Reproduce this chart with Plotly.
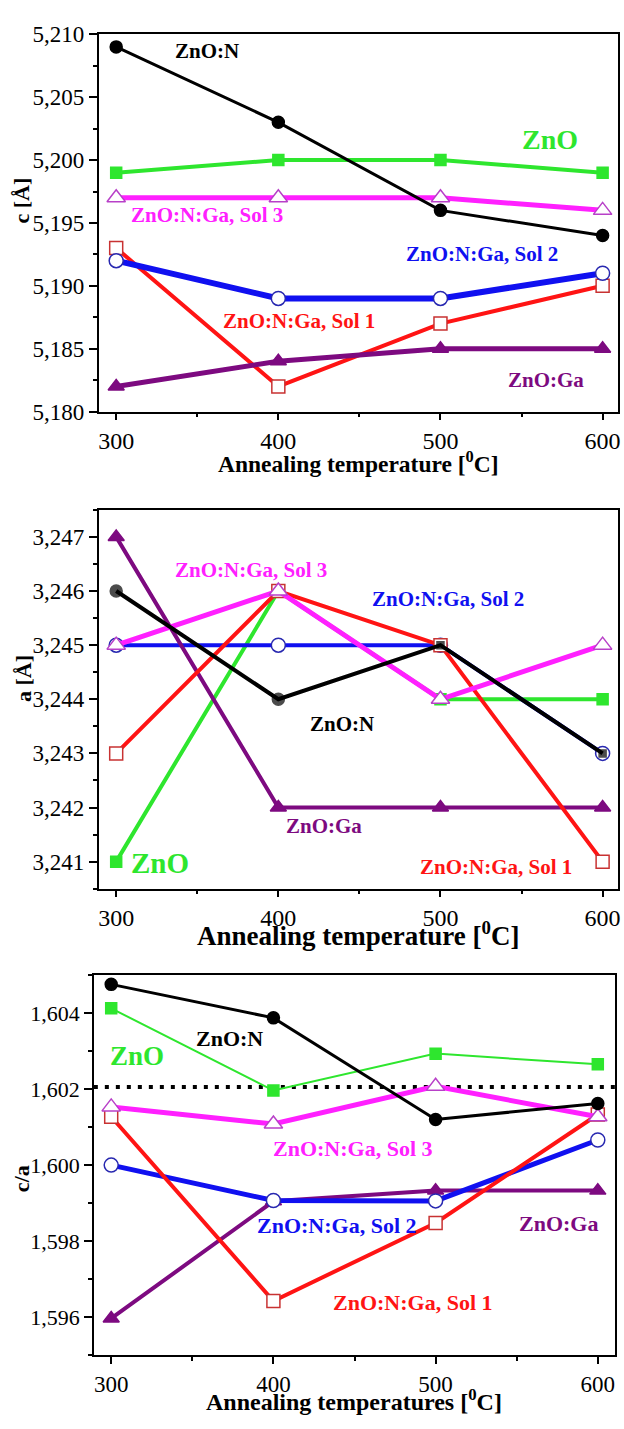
import plotly.graph_objects as go

# ---------------- data ----------------
temps = [300, 400, 500, 600]

c_ZnO = [5.199, 5.200, 5.200, 5.199]
c_ZnO_N = [5.209, 5.203, 5.196, 5.194]
c_ZnO_Ga = [5.182, 5.184, 5.185, 5.185]
c_Sol1 = [5.193, 5.182, 5.187, 5.190]
c_Sol2 = [5.192, 5.189, 5.189, 5.191]
c_Sol3 = [5.197, 5.197, 5.197, 5.196]

a_ZnO = [3.241, 3.246, 3.244, 3.244]
a_ZnO_N = [3.246, 3.244, 3.245, 3.243]
a_ZnO_Ga = [3.247, 3.242, 3.242, 3.242]
a_Sol1 = [3.243, 3.246, 3.245, 3.241]
a_Sol2 = [3.245, 3.245, 3.245, 3.243]
a_Sol3 = [3.245, 3.246, 3.244, 3.245]

ca_ZnO = [1.60412, 1.60196, 1.60293, 1.60265]
ca_ZnO_N = [1.60475, 1.60387, 1.60120, 1.60162]
ca_ZnO_Ga = [1.59597, 1.59905, 1.59933, 1.59933]
ca_Sol1 = [1.60127, 1.59643, 1.59848, 1.60133]
ca_Sol2 = [1.60000, 1.59907, 1.59906, 1.60066]
ca_Sol3 = [1.60153, 1.60108, 1.60207, 1.60127]
ca_reference = 1.60205

# ---------------- styles ----------------
FONT = "Liberation Serif, Times New Roman, Times, serif"
W, H = 624, 1429

STYLE = {
    "ZnO":    dict(color="#2ee62e", symbol="square", size=11, fill="#2ee62e", outline="#2ee62e"),
    "ZnO:N":  dict(color="#000000", symbol="circle", size=12, fill="#000000", outline="#000000"),
    "ZnO:Ga": dict(color="#7d0a80", symbol="triangle-up", size=14, fill="#7d0a80", outline="#7d0a80"),
    "Sol1":   dict(color="#ff1414", symbol="square", size=13, fill="white", outline="#c83232"),
    "Sol2":   dict(color="#1010f0", symbol="circle", size=14, fill="white", outline="#2828b0"),
    "Sol3":   dict(color="#ff20ff", symbol="triangle-up", size=16, fill="white", outline="#b840c8"),
}

fig = go.Figure()


def add_series(key, yvals, axis_idx, lw, symbols=None, sizes=None):
    st = STYLE[key]
    sfx = "" if axis_idx == 1 else str(axis_idx)
    fig.add_trace(go.Scatter(
        x=temps, y=yvals, mode="lines+markers",
        xaxis="x" + sfx, yaxis="y" + sfx,
        line=dict(color=st["color"], width=lw),
        marker=dict(symbol=symbols or st["symbol"], size=sizes or st["size"], color=st["fill"],
                    line=dict(color=st["outline"], width=1.5)),
        showlegend=False, hoverinfo="skip"))


# panel 1 (c)
add_series("ZnO", c_ZnO, 1, 4)
add_series("Sol3", c_Sol3, 1, 5)
add_series("Sol1", c_Sol1, 1, 4)
add_series("Sol2", c_Sol2, 1, 6)
add_series("ZnO:Ga", c_ZnO_Ga, 1, 5)
add_series("ZnO:N", c_ZnO_N, 1, 3)

# panel 2 (a)
add_series("ZnO", a_ZnO, 2, 4)
add_series("Sol2", a_Sol2, 2, 4)
add_series("ZnO:Ga", a_ZnO_Ga, 2, 4)
add_series("Sol1", a_Sol1, 2, 4)
add_series("Sol3", a_Sol3, 2, 5)
add_series("ZnO:N", a_ZnO_N, 2, 4,
           symbols=["circle", "circle", "square", "square"], sizes=[12, 12, 7, 7])

# panel 3 (c/a)
add_series("ZnO", ca_ZnO, 3, 2)
add_series("ZnO:Ga", ca_ZnO_Ga, 3, 4)
add_series("Sol2", ca_Sol2, 3, 5)
add_series("Sol1", ca_Sol1, 3, 4)
add_series("Sol3", ca_Sol3, 3, 5)
add_series("ZnO:N", ca_ZnO_N, 3, 3)

fig.add_shape(type="line", xref="x3 domain", yref="y3", x0=0, x1=1,
              y0=ca_reference, y1=ca_reference,
              line=dict(color="black", width=4, dash="4px,7px"), layer="below")


def xpx(p):
    return p / W


def ypx(p):
    return 1 - p / H


def xaxis_cfg(dom, rng, anchor, size):
    return dict(domain=dom, range=rng, anchor=anchor, tickmode="linear", tick0=300, dtick=100,
                ticks="outside", ticklen=7, tickwidth=1.5, tickcolor="black",
                minor=dict(ticks="outside", ticklen=4, tickwidth=1.5, dtick=50, tick0=300, tickcolor="black"),
                showline=True, linecolor="black", linewidth=1.5, mirror=True,
                showgrid=False, zeroline=False,
                tickfont=dict(family=FONT, size=size, color="black"))


def yaxis_cfg(dom, rng, anchor, t0, dtick, fmt, size):
    return dict(domain=dom, range=rng, anchor=anchor, tickmode="linear", tick0=t0, dtick=dtick,
                tickformat=fmt, ticks="outside", ticklen=8, tickwidth=1.5, tickcolor="black",
                minor=dict(ticks="outside", ticklen=4, tickwidth=1.5, dtick=dtick / 2, tickcolor="black"),
                showline=True, linecolor="black", linewidth=1.5, mirror=True,
                showgrid=False, zeroline=False,
                tickfont=dict(family=FONT, size=size, color="black"))


xd12 = [xpx(99), xpx(621)]
xd3 = [xpx(94.3), xpx(618.3)]

fig.update_layout(
    width=W, height=H, margin=dict(l=0, r=0, t=0, b=0),
    paper_bgcolor="white", plot_bgcolor="white", separators=",.",
    font=dict(family=FONT, color="black"),
    xaxis=xaxis_cfg(xd12, [289.1, 609.5], "y", 24),
    yaxis=yaxis_cfg([ypx(406.7), ypx(22.7)], [5.180, 5.210], "x", 5.180, 0.005, ".3f", 23),
    xaxis2=xaxis_cfg(xd12, [289.1, 609.5], "y2", 24),
    yaxis2=yaxis_cfg([ypx(892.3), ypx(506.7)], [3.2405, 3.2475], "x2", 3.241, 0.001, ".3f", 23),
    xaxis3=xaxis_cfg(xd3, [289.3, 610.8], "y3", 23),
    yaxis3=yaxis_cfg([ypx(1367.3), ypx(980)], [1.595, 1.605], "x3", 1.596, 0.002, ".3f", 22),
)

annots = [
    # panel 1
    ("ZnO:N", 208, 40, "#000000", 21),
    ("ZnO", 553, 130, "#2ee62e", 28),
    ("ZnO:N:Ga, Sol 3", 208, 207, "#ff20ff", 21),
    ("ZnO:N:Ga, Sol 2", 484, 246, "#1010f0", 21),
    ("ZnO:N:Ga, Sol 1", 300, 315, "#ff1414", 21),
    ("ZnO:Ga", 549, 375, "#7d0a80", 21),
    # panel 2
    ("ZnO:N:Ga, Sol 3", 252, 568, "#ff20ff", 21),
    ("ZnO:N:Ga, Sol 2", 450, 597, "#1010f0", 21),
    ("ZnO:N", 344, 725, "#000000", 21),
    ("ZnO:Ga", 326, 828, "#7d0a80", 21),
    ("ZnO", 161, 866, "#2ee62e", 29),
    ("ZnO:N:Ga, Sol 1", 498, 870, "#ff1414", 21),
    # panel 3
    ("ZnO:N", 231, 1045, "#000000", 22),
    ("ZnO", 138, 1063, "#2ee62e", 27),
    ("ZnO:N:Ga, Sol 3", 355, 1157, "#ff20ff", 22),
    ("ZnO:N:Ga, Sol 2", 339, 1235, "#1010f0", 22),
    ("ZnO:Ga", 561, 1233, "#7d0a80", 22),
    ("ZnO:N:Ga, Sol 1", 415, 1313, "#ff1414", 22),
]
for txt, x, y, col, sz in annots:
    fig.add_annotation(text="<b>%s</b>" % txt, x=xpx(x), y=ypx(y), xref="paper", yref="paper",
                       xanchor="center", yanchor="middle", showarrow=False,
                       font=dict(family=FONT, size=sz, color=col))

# axis titles (x titles anchored by their bottom edge)
xtitles = [
    ("Annealing temperature [<sup>0</sup>C]", 360, 474, 23.5),
    ("Annealing temperature [<sup>0</sup>C]", 360, 957, 27),
    ("Annealing temperatures [<sup>0</sup>C]", 356, 1429, 24),
]
for txt, x, y, sz in xtitles:
    fig.add_annotation(text="<b>%s</b>" % txt, x=xpx(x), y=ypx(y), xref="paper", yref="paper",
                       xanchor="center", yanchor="bottom", showarrow=False, borderpad=0,
                       font=dict(family=FONT, size=sz, color="black"))

ytitles = [
    ("c [Å]", 22, 192, 22),
    ("a [Å]", 23, 678, 22),
    ("c/a", 21, 1187, 22),
]
for txt, x, y, sz in ytitles:
    fig.add_annotation(text="<b>%s</b>" % txt, x=xpx(x), y=ypx(y), xref="paper", yref="paper",
                       xanchor="center", yanchor="middle", showarrow=False, textangle=-90,
                       font=dict(family=FONT, size=sz, color="black"))

fig.write_html("out.html")
